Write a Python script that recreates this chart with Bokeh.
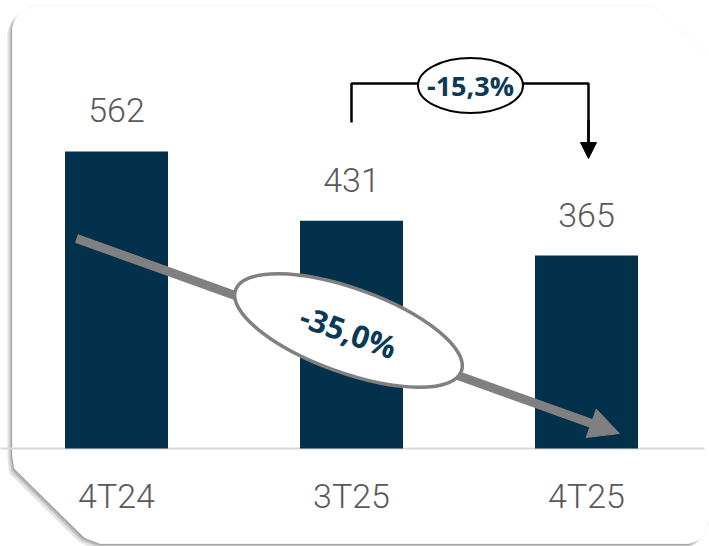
import numpy as np
from bokeh.plotting import figure
from bokeh.models import Range1d, Arrow, NormalHead
from bokeh.core.properties import value
from bokeh.embed import file_html
from bokeh.resources import INLINE

# ---- data ----
categories = ["4T24", "3T25", "4T25"]
values = [562, 431, 365]
value_labels = ["562", "431", "365"]
change_short = "-15,3%"
change_long = "-35,0%"

W, H = 709, 546
# layout mapping (pixel geometry of the reference)
X0_PX, STEP_PX = 116.0, 235.0      # first category centre, spacing
ZERO_PX, PX_PER_UNIT = 448.0, 0.5285

def xd(px):
    return (px - X0_PX) / STEP_PX

def yd(py):
    return (ZERO_PX - py) / PX_PER_UNIT

p = figure(width=W, height=H, output_backend="svg", toolbar_location=None,
           x_range=Range1d(xd(0), xd(W)), y_range=Range1d(yd(H), yd(0)),
           x_axis_type=None, y_axis_type=None, min_border=0)
p.outline_line_color = None
p.background_fill_color = "white"
p.border_fill_color = "white"

# ---- card background with shadow ----
def arc(cx, cy, r, a0, a1, n=12):
    t = np.radians(np.linspace(a0, a1, n))
    return list(cx + r * np.cos(t)), list(cy + r * np.sin(t))

cx, cy = [], []
ax_, ay_ = arc(37, 30, 25, 180, 270); cx += ax_; cy += ay_
cx += [652, 714, 714]; cy += [5, 60, 520]
ax_, ay_ = arc(686, 521, 22, 0, 90); cx += ax_; cy += ay_
cx += [100, 84, 14, 12]; cy += [543, 537, 468, 455]
cx = np.array(cx); cy = np.array(cy)

for dx, dy, col, a in [(-5, 5, "#b0b0b0", 0.35), (-3, 3, "#9a9a9a", 0.45), (-1.5, 1.5, "#8a8a8a", 0.5)]:
    p.patch([xd(v + dx) for v in cx], [yd(v + dy) for v in cy],
            fill_color=col, fill_alpha=a, line_color=None)
p.patch([xd(v) for v in cx], [yd(v) for v in cy],
        fill_color="white", line_color="#f6f6f6", line_width=1)

# baseline
p.segment(x0=[xd(0)], y0=[0], x1=[xd(704)], y1=[0], line_color="#d9d9d9", line_width=2)

# ---- bars ----
xs = list(range(len(categories)))
p.vbar(x=xs, top=values, bottom=0, width=103 / STEP_PX, fill_color="#03314C", line_color=None)

# value labels
p.text(x=xs, y=values, text=value_labels, y_offset=-41, text_align="center",
       text_baseline="alphabetic", text_font=value("Roboto Light"), text_font_size="34px",
       text_color="#595959")

# category labels
p.text(x=xs, y=[0] * len(xs), text=categories, y_offset=47, text_align="center",
       text_baseline="alphabetic", text_font=value("Roboto Light"), text_font_size="34px",
       text_color="#595959")

# ---- bracket annotation (3T25 -> 4T25) ----
p.line(x=[xd(351), xd(351), xd(588), xd(588)], y=[yd(122), yd(83), yd(83), yd(145)],
       line_color="black", line_width=2.5)
p.add_layout(Arrow(x_start=xd(588), y_start=yd(120), x_end=xd(588), y_end=yd(158),
                   line_color="black", line_width=2.5,
                   end=NormalHead(size=16, fill_color="black", line_color="black", line_width=1)))
e1 = p.ellipse(x=[xd(470)], y=[yd(85)], width=105, height=55, width_units="screen",
               height_units="screen", fill_color="white", line_color="black", line_width=2)
t1 = p.text(x=[xd(470)], y=[yd(85)], text=[change_short], text_align="center",
            text_baseline="middle", text_font=value("Open Sans"), text_font_style="bold",
            text_font_size="27px", text_color="#0B3A57")

# ---- diagonal arrow (4T24 -> 4T25) ----
ang = -np.arctan2(433 - 238, 619 - 76)
p.add_layout(Arrow(x_start=xd(76), y_start=yd(238), x_end=xd(619), y_end=yd(433),
                   line_color="#808080", line_width=9,
                   end=NormalHead(size=30, fill_color="#808080", line_color="#808080", line_width=1)))
e2 = p.ellipse(x=[xd(348)], y=[yd(330)], width=240, height=84, width_units="screen",
               height_units="screen", angle=ang, fill_color="white", line_color="#808080",
               line_width=3.5)
t2 = p.text(x=[xd(348)], y=[yd(331)], text=[change_long], angle=ang, text_align="center",
            text_baseline="middle", text_font=value("Open Sans"), text_font_style="bold",
            text_font_size="31px", text_color="#0B3A57")

for r in (e1, t1, e2, t2):
    r.level = "overlay"

open("out.html", "w").write(file_html(p, INLINE))
